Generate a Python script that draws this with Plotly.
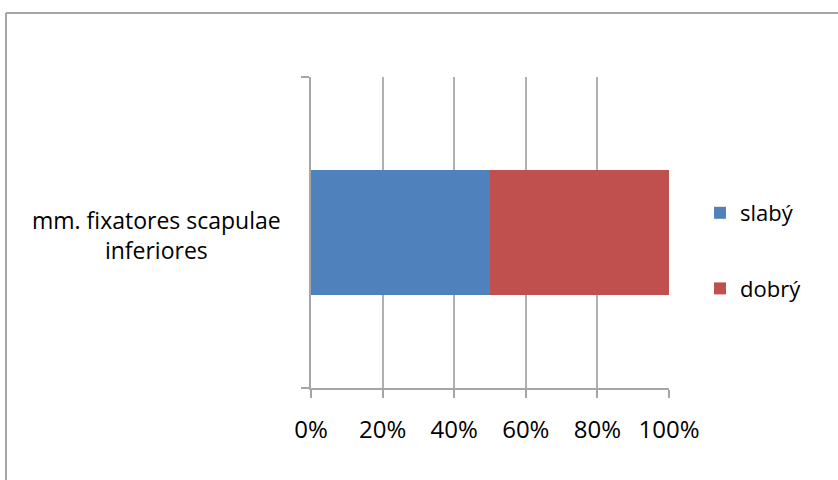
import plotly.graph_objects as go

categories = ["mm. fixatores scapulae<br>inferiores"]
series_names = ["slabý", "dobrý"]
slaby_values = [50]
dobry_values = [50]
tick_values = [0, 20, 40, 60, 80, 100]
tick_labels = ["0%", "20%", "40%", "60%", "80%", "100%"]
colors = ["#4f81bd", "#c0504d"]

FONT = "Open Sans"

fig = go.Figure()
for name, vals, col in zip(series_names, [slaby_values, dobry_values], colors):
    fig.add_trace(go.Bar(
        y=categories, x=vals, name=name, orientation="h",
        marker=dict(color=col, line=dict(width=0)),
        legendgroup=name,
    ))

L, R, T, B = 311, 169, 77, 92
W, H = 838, 480
pw, ph = W - L - R, H - T - B

def px(xp):
    return (xp - L) / pw

def py(yp):
    return (H - B - yp) / ph

fig.update_layout(
    width=W, height=H,
    margin=dict(l=L, r=R, t=T, b=B, autoexpand=False),
    barmode="stack",
    bargap=0.6,
    plot_bgcolor="white",
    paper_bgcolor="white",
    font=dict(family=FONT, size=22, color="#000000"),
    showlegend=True,
    legend=dict(
        x=px(700), xanchor="left",
        y=py(192), yanchor="top",
        traceorder="grouped",
        tracegroupgap=44,
        font=dict(family=FONT, size=22, color="#000000"),
        bgcolor="rgba(0,0,0,0)",
        itemwidth=30,
    ),
    xaxis=dict(
        range=[0, 100],
        tickvals=tick_values,
        ticktext=tick_labels,
        tickfont=dict(family=FONT, size=24, color="#000000"),
        showgrid=True,
        gridcolor="#b0b0b0",
        gridwidth=2,
        showline=True,
        linecolor="#a6a6a6",
        linewidth=2,
        ticks="outside",
        ticklen=8,
        tickwidth=2,
        tickcolor="#a6a6a6",
        ticklabelstandoff=11,
        zeroline=False,
        fixedrange=True,
    ),
    yaxis=dict(
        showgrid=False,
        showline=True,
        linecolor="#a6a6a6",
        linewidth=2,
        ticks="outside",
        tickson="boundaries",
        ticklen=8,
        tickwidth=2,
        tickcolor="#a6a6a6",
        showticklabels=False,
        zeroline=False,
        fixedrange=True,
    ),
    annotations=[
        dict(text=categories[0], xref="paper", yref="paper",
             x=px(156), y=py(235), xanchor="center", yanchor="middle",
             align="center", showarrow=False,
             font=dict(family=FONT, size=23, color="#000000")),
    ],
    shapes=[
        dict(type="line", xref="paper", yref="paper",
             x0=px(6), x1=px(900), y0=py(13), y1=py(13),
             line=dict(color="#a6a6a6", width=2), layer="above"),
        dict(type="line", xref="paper", yref="paper",
             x0=px(6), x1=px(6), y0=py(13), y1=py(520),
             line=dict(color="#a6a6a6", width=2), layer="above"),
    ],
)

fig.write_html("out.html")
